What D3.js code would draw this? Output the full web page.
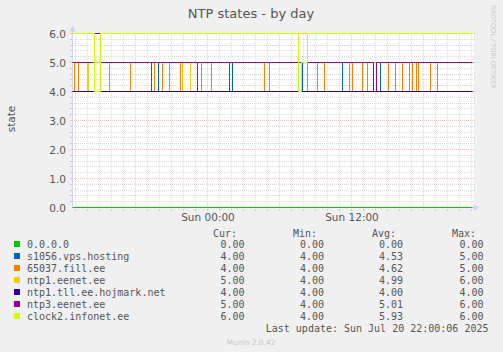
<!DOCTYPE html>
<html>
<head>
<meta charset="utf-8">
<script src="https://cdn.jsdelivr.net/npm/d3@7"></script>
<style>
  body { margin: 0; background: #f0f0f0; }
  svg { display: block; }
  text { font-family: "DejaVu Sans", sans-serif; fill: #555; }
  .mono { font-family: "DejaVu Sans Mono", monospace; font-size: 10px; }
</style>
</head>
<body>
<div id="chart"></div>
<script>
// time range of the graph
var startTime = "2025-07-19 12:45";
var endTime = "2025-07-20 22:05";

// legend
var seriesNames = ["0.0.0.0", "s1056.vps.hosting", "65037.fill.ee", "ntp1.eenet.ee",
                   "ntp1.tll.ee.hojmark.net", "ntp3.eenet.ee", "clock2.infonet.ee"];
var seriesColors = ["#00cc00", "#0066b3", "#ff8000", "#ffcc00", "#330099", "#990099", "#ccff00"];
var curValues = [0, 4, 4, 5, 4, 5, 6];
var minValues = [0, 4, 4, 4, 4, 4, 4];
var avgValues = [0, 4.53, 4.62, 4.99, 4.00, 5.01, 5.93];
var maxValues = [0, 5, 5, 6, 4, 6, 6];

var yTicks = [0, 1, 2, 3, 4, 5, 6];

// state changes for each series: [time, new state]
var zeroChanges = [["2025-07-19 12:45", 0]];
var vpsChanges = [
  ["2025-07-19 12:45", 5], ["2025-07-19 19:20", 4], ["2025-07-19 19:35", 5],
  ["2025-07-19 19:55", 4], ["2025-07-19 23:10", 5], ["2025-07-20 01:50", 4],
  ["2025-07-20 02:05", 5], ["2025-07-20 07:55", 4], ["2025-07-20 11:15", 5],
  ["2025-07-20 14:25", 4]];
var fillChanges = [
  ["2025-07-19 12:45", 5], ["2025-07-19 12:55", 4], ["2025-07-19 13:15", 5],
  ["2025-07-19 15:50", 4], ["2025-07-19 17:35", 5], ["2025-07-19 19:35", 4],
  ["2025-07-19 20:15", 5], ["2025-07-19 20:50", 4], ["2025-07-19 21:45", 5],
  ["2025-07-19 23:30", 4], ["2025-07-20 00:20", 5], ["2025-07-20 04:45", 4],
  ["2025-07-20 05:10", 5], ["2025-07-20 08:20", 4], ["2025-07-20 09:10", 5],
  ["2025-07-20 09:45", 4], ["2025-07-20 11:50", 5], ["2025-07-20 12:05", 4],
  ["2025-07-20 12:55", 5], ["2025-07-20 13:20", 4], ["2025-07-20 15:05", 5],
  ["2025-07-20 15:40", 4], ["2025-07-20 16:15", 5], ["2025-07-20 16:50", 4],
  ["2025-07-20 17:05", 5], ["2025-07-20 17:25", 4], ["2025-07-20 17:35", 5],
  ["2025-07-20 18:35", 4], ["2025-07-20 19:10", 5]];
var eenet1Changes = [
  ["2025-07-19 12:45", 5], ["2025-07-19 14:00", 4], ["2025-07-19 14:05", 5],
  ["2025-07-19 21:55", 4], ["2025-07-19 22:35", 5], ["2025-07-20 07:35", 6],
  ["2025-07-20 08:20", 5]];
var hojmarkChanges = [["2025-07-19 12:45", 4]];
var eenet3Changes = [
  ["2025-07-19 12:45", 5], ["2025-07-19 14:35", 6], ["2025-07-19 15:05", 5],
  ["2025-07-20 13:50", 4], ["2025-07-20 14:05", 5]];
var infonetChanges = [
  ["2025-07-19 12:45", 6], ["2025-07-19 14:35", 4], ["2025-07-19 15:05", 6],
  ["2025-07-20 07:35", 4], ["2025-07-20 07:50", 5], ["2025-07-20 08:20", 6]];

var allChanges = [zeroChanges, vpsChanges, fillChanges, eenet1Changes,
                  hojmarkChanges, eenet3Changes, infonetChanges];

var parseTime = d3.timeParse("%Y-%m-%d %H:%M");
var t0 = parseTime(startTime), t1 = parseTime(endTime);

var svg = d3.select("#chart").append("svg")
            .attr("width", 503).attr("height", 352);

var x = d3.scaleTime().domain([t0, t1]).range([72, 472]);
var y = d3.scaleLinear().domain([0, 6]).range([207.5, 33.5]);

// background of plot area
svg.append("rect").attr("x", 72).attr("y", 33).attr("width", 402).attr("height", 175)
   .attr("fill", "#ffffff");

// grid: minor every 0.2, major every 1
var majorColor = "#f3c0c0", minorColor = "#dcdcdc";
var grid = svg.append("g").attr("shape-rendering", "crispEdges");
d3.range(1, 31).forEach(function(i) {
  var v = i / 5;
  var major = i % 5 === 0;
  var py = Math.floor(y(v)) + 0.5;
  grid.append("line")
      .attr("x1", 72).attr("x2", 475)
      .attr("y1", py).attr("y2", py)
      .attr("stroke", major ? majorColor : minorColor)
      .attr("stroke-dasharray", "1,1");
  grid.append("line")
      .attr("x1", 70).attr("x2", 72)
      .attr("y1", py).attr("y2", py)
      .attr("stroke", major ? majorColor : "#c8c8c8");
});
d3.timeHour.range(t0, t1).forEach(function(t) {
  var major = t.getHours() % 6 === 0;
  var px = Math.round(x(t)) + 0.5;
  grid.append("line")
      .attr("x1", px).attr("x2", px)
      .attr("y1", 33).attr("y2", 208)
      .attr("stroke", major ? majorColor : minorColor)
      .attr("stroke-dasharray", "1,1");
  grid.append("line")
      .attr("x1", px).attr("x2", px)
      .attr("y1", 209).attr("y2", 211)
      .attr("stroke", major ? majorColor : "#c8c8c8");
});

// axes
svg.append("line").attr("x1", 72.5).attr("x2", 72.5).attr("y1", 208).attr("y2", 29)
   .attr("stroke", "#d0d0f8");
svg.append("path").attr("d", "M72.5,25.5 L75.5,31.5 L69.5,31.5 Z").attr("fill", "#d0d0f8");
svg.append("line").attr("x1", 72).attr("x2", 476).attr("y1", 207.5).attr("y2", 207.5)
   .attr("stroke", "#d0d0f8");
svg.append("path").attr("d", "M479.5,207.5 L473.5,204.5 L473.5,210.5 Z").attr("fill", "#d0d0f8");

// y tick labels
svg.append("g").selectAll("text").data(yTicks).enter().append("text")
   .attr("x", 66).attr("y", function(d) { return y(d) + 4; })
   .attr("text-anchor", "end").style("font-size", "10.5px")
   .text(d3.format(".1f"));

// x tick labels
var xLabelTimes = [parseTime("2025-07-20 00:00"), parseTime("2025-07-20 12:00")];
svg.append("g").selectAll("text").data(xLabelTimes).enter().append("text")
   .attr("x", function(d) { return x(d) + 1; }).attr("y", 221)
   .attr("text-anchor", "middle").style("font-size", "10.5px")
   .text(d3.timeFormat("Sun %H:%M"));

// series lines (snapped to pixel centres)
var line = d3.line()
             .x(function(d) { return Math.round(x(d.t)) + 0.5; })
             .y(function(d) { return y(d.v); })
             .curve(d3.curveStepAfter);

allChanges.forEach(function(changes, i) {
  var pts = changes.map(function(c) { return { t: parseTime(c[0]), v: c[1] }; });
  pts.push({ t: t1, v: pts[pts.length - 1].v });
  svg.append("path").datum(pts)
     .attr("d", line)
     .attr("fill", "none")
     .attr("stroke", seriesColors[i])
     .attr("stroke-width", 1);
});

// title and labels
svg.append("text").attr("x", 251).attr("y", 18).attr("text-anchor", "middle")
   .style("font-size", "13px").text("NTP states - by day");
svg.append("text").attr("transform", "translate(15,119) rotate(-90)")
   .attr("text-anchor", "middle").style("font-size", "10.5px").text("state");
svg.append("text").attr("transform", "translate(491,5) rotate(90)")
   .style("font-size", "6.5px").style("fill", "#c8c8c8")
   .text("RRDTOOL / TOBI OETIKER");

// legend
var fmt = d3.format(".2f");
var legend = svg.append("g");
var headY = 236.5;
[["Cur:", 237], ["Min:", 317], ["Avg:", 396], ["Max:", 476]].forEach(function(h) {
  legend.append("text").attr("class", "mono").attr("x", h[1]).attr("y", headY)
        .attr("text-anchor", "end").text(h[0]);
});
seriesNames.forEach(function(name, i) {
  var rowY = 248 + i * 12;
  legend.append("rect").attr("x", 14).attr("y", rowY - 7).attr("width", 6).attr("height", 6)
        .attr("fill", seriesColors[i]);
  legend.append("text").attr("class", "mono").attr("x", 27).attr("y", rowY).text(name);
  [[curValues, 244.5], [minValues, 324], [avgValues, 403], [maxValues, 483.5]].forEach(function(c) {
    legend.append("text").attr("class", "mono").attr("x", c[1]).attr("y", rowY)
          .attr("text-anchor", "end").text(fmt(c[0][i]));
  });
});
legend.append("text").attr("class", "mono").attr("x", 488.5).attr("y", 332)
      .attr("text-anchor", "end").text("Last update: Sun Jul 20 22:00:06 2025");
svg.append("text").attr("x", 251).attr("y", 344.5).attr("text-anchor", "middle")
   .style("font-size", "7.5px").style("fill", "#c8c8c8").text("Munin 2.0.42");
</script>
</body>
</html>
